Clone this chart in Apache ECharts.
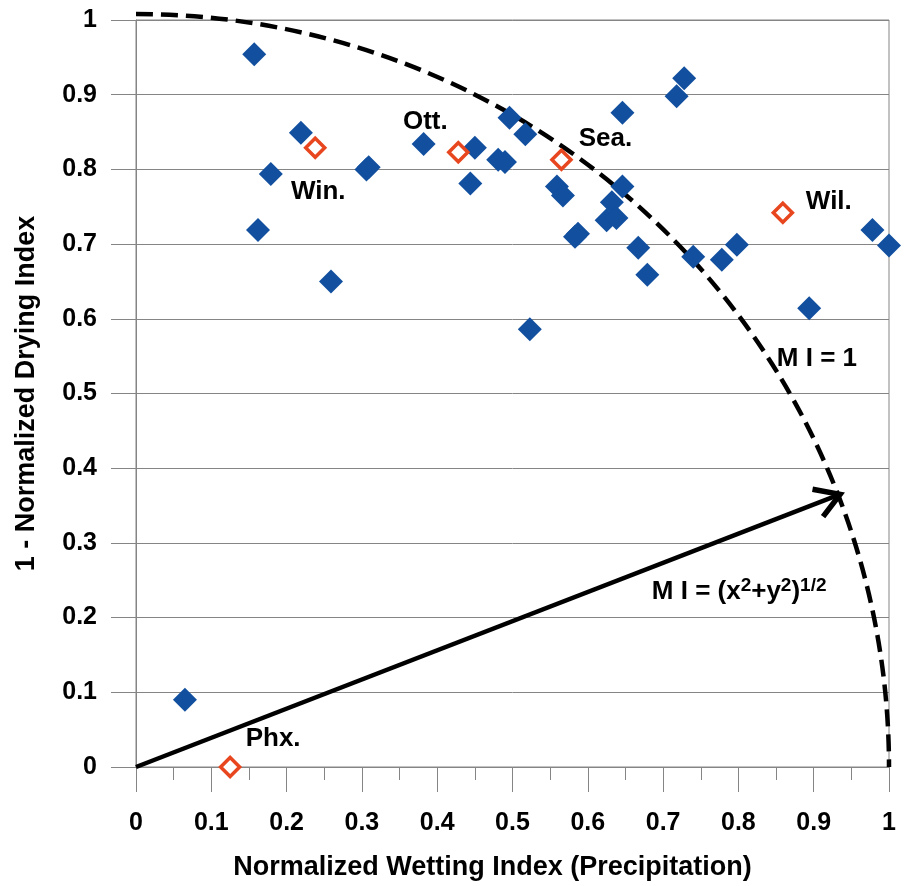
<!DOCTYPE html>
<html>
<head>
<meta charset="utf-8">
<script src="https://cdn.jsdelivr.net/npm/echarts@6/dist/echarts.min.js"></script>
<style>
  html, body { margin: 0; padding: 0; background: #fff; }
  #chart { width: 904px; height: 886px; }
</style>
</head>
<body>
<div id="chart"></div>
<script>
// blue stations
const blueX = [0.157, 0.219, 0.179, 0.306, 0.309, 0.162, 0.259, 0.382, 0.450, 0.444,
  0.481, 0.490, 0.496, 0.517, 0.559, 0.567, 0.646, 0.728, 0.718, 0.646,
  0.632, 0.625, 0.638, 0.587, 0.583, 0.667, 0.679, 0.740, 0.778, 0.798,
  0.978, 1.000, 0.894, 0.523, 0.065];
const blueY = [0.954, 0.849, 0.794, 0.800, 0.803, 0.719, 0.650, 0.834, 0.829, 0.781,
  0.813, 0.810, 0.869, 0.847, 0.777, 0.765, 0.876, 0.922, 0.898, 0.777,
  0.756, 0.732, 0.735, 0.714, 0.710, 0.695, 0.659, 0.683, 0.679, 0.699,
  0.719, 0.698, 0.614, 0.586, 0.090];

// named cities (hollow markers)
const cityNames = ['Win.', 'Ott.', 'Sea.', 'Wil.', 'Phx.'];
const cityX = [0.238, 0.428, 0.565, 0.859, 0.125];
const cityY = [0.829, 0.823, 0.813, 0.742, 0.000];

// MI = 1 circle and the MI vector
const miRadius = [1];
const arrowFrom = [0, 0];
const arrowTo = [0.935, 0.365];

const notes = ['M I = 1', '{t|M I = (x}{s|2}{t|+y}{s|2}{t|)}{s|1/2}'];
const noteX = [0.851, 0.685];
const noteY = [0.546, 0.234];

const xTicks = [0, 0.1, 0.2, 0.3, 0.4, 0.5, 0.6, 0.7, 0.8, 0.9, 1];

const FONT = '"Liberation Sans", Arial, sans-serif';
const GRAY = '#858585';

// label offsets for city names (px from marker centre)
const cityLabelOffset = [[3, 44], [-33, -30], [44, -21], [46, -11], [43, -28]];

const myChart = echarts.init(document.getElementById('chart'));

const option = {
  animation: false,
  grid: {
    left: 136, right: 15, top: 20, bottom: 113,
    show: true,
    borderColor: GRAY,
    borderWidth: 1
  },
  xAxis: {
    type: 'value',
    min: xTicks[0],
    max: xTicks[xTicks.length - 1],
    interval: 0.1,
    name: 'Normalized Wetting Index (Precipitation)',
    nameLocation: 'middle',
    nameGap: 87,
    nameTextStyle: {
      fontFamily: FONT, fontWeight: 'bold', fontSize: 27, color: '#000',
      padding: [0, 40, 0, 0]
    },
    axisLine: { show: true, lineStyle: { color: GRAY, width: 1 } },
    axisTick: { show: true, length: 25, lineStyle: { color: GRAY, width: 1 } },
    minorTick: { show: true, splitNumber: 2, length: 13, lineStyle: { color: GRAY, width: 1 } },
    splitLine: { show: false },
    axisLabel: {
      fontFamily: FONT, fontWeight: 'bold', fontSize: 25, color: '#000', margin: 44
    }
  },
  yAxis: {
    type: 'value',
    min: 0,
    max: 1,
    interval: 0.1,
    name: '1 - Normalized Drying Index',
    nameLocation: 'middle',
    nameGap: 96,
    nameTextStyle: { fontFamily: FONT, fontWeight: 'bold', fontSize: 27, color: '#000' },
    axisLine: { show: true, lineStyle: { color: GRAY, width: 1 } },
    axisTick: { show: true, length: 25, lineStyle: { color: GRAY, width: 1 } },
    splitLine: { show: true, lineStyle: { color: GRAY, width: 1 } },
    axisLabel: {
      fontFamily: FONT, fontWeight: 'bold', fontSize: 25, color: '#000', margin: 39
    }
  },
  series: [
    {
      name: 'circle',
      type: 'custom',
      coordinateSystem: 'cartesian2d',
      silent: true,
      z: 3,
      data: miRadius.map(r => [0, 0, r]),
      renderItem: (params, api) => {
        const c = api.coord([api.value(0), api.value(1)]);
        const e = api.coord([api.value(2), 0]);
        return {
          type: 'arc',
          shape: { cx: c[0], cy: c[1], r: e[0] - c[0], startAngle: -Math.PI / 2, endAngle: 0, clockwise: true },
          style: { stroke: '#000', fill: null, lineWidth: 4.5, lineDash: [17, 8] }
        };
      }
    },
    {
      name: 'vector',
      type: 'custom',
      coordinateSystem: 'cartesian2d',
      silent: true,
      z: 3,
      data: [[arrowFrom[0], arrowFrom[1], arrowTo[0], arrowTo[1]]],
      renderItem: (params, api) => {
        const p0 = api.coord([api.value(0), api.value(1)]);
        const p1 = api.coord([api.value(2), api.value(3)]);
        const ang = Math.atan2(p1[1] - p0[1], p1[0] - p0[0]);
        const len = 28, spread = 0.55;
        const a1 = [p1[0] - len * Math.cos(ang - spread), p1[1] - len * Math.sin(ang - spread)];
        const a2 = [p1[0] - len * Math.cos(ang + spread), p1[1] - len * Math.sin(ang + spread)];
        return {
          type: 'group',
          children: [
            {
              type: 'line',
              shape: { x1: p0[0], y1: p0[1], x2: p1[0] - 3 * Math.cos(ang), y2: p1[1] - 3 * Math.sin(ang) },
              style: { stroke: '#000', lineWidth: 4.5 }
            },
            {
              type: 'polyline',
              shape: { points: [a1, p1, a2] },
              style: { stroke: '#000', lineWidth: 5.5, fill: null, lineJoin: 'miter' }
            }
          ]
        };
      }
    },
    {
      name: 'stations',
      type: 'scatter',
      clip: false,
      z: 4,
      symbol: 'diamond',
      symbolSize: 24,
      itemStyle: { color: '#12509F', opacity: 1 },
      data: blueX.map((x, i) => [x, blueY[i]])
    },
    {
      name: 'cities',
      type: 'scatter',
      clip: false,
      z: 5,
      symbol: 'diamond',
      symbolSize: 19,
      itemStyle: { color: '#fff', borderColor: '#E8461E', borderWidth: 3.5, opacity: 1 },
      data: cityX.map((x, i) => ({
        value: [x, cityY[i]],
        name: cityNames[i],
        label: { offset: cityLabelOffset[i] }
      })),
      label: {
        show: true,
        position: 'inside',
        formatter: '{b}',
        fontFamily: FONT, fontWeight: 'bold', fontSize: 26, color: '#000'
      }
    },
    {
      name: 'notes',
      type: 'scatter',
      clip: false,
      z: 6,
      symbolSize: 0,
      silent: true,
      itemStyle: { opacity: 1 },
      data: noteX.map((x, i) => ({ value: [x, noteY[i]], name: notes[i] })),
      label: {
        show: true,
        position: 'right',
        distance: 0,
        formatter: '{b}',
        fontFamily: FONT, fontWeight: 'bold', fontSize: 26, color: '#000',
        rich: {
          t: { fontFamily: FONT, fontWeight: 'bold', fontSize: 26, color: '#000', lineHeight: 32 },
          s: { fontFamily: FONT, fontWeight: 'bold', fontSize: 19, color: '#000', lineHeight: 19, verticalAlign: 'top' }
        }
      }
    }
  ]
};

myChart.setOption(option);
</script>
</body>
</html>
